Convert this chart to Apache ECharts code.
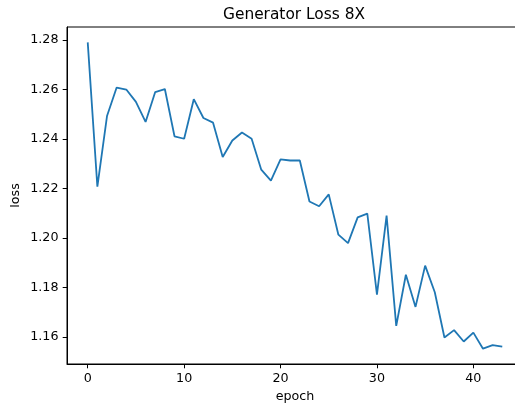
<!DOCTYPE html>
<html>
<head>
<meta charset="utf-8">
<script src="https://cdn.jsdelivr.net/npm/echarts@6/dist/echarts.min.js"></script>
<style>
  html, body { margin: 0; padding: 0; background: #fff; overflow: hidden; }
  /* the plot frame runs slightly past the right edge of the window */
  #chart { width: 523px; height: 407px; }
</style>
</head>
<body>
<div id="chart"></div>
<script>
// Generator loss per training epoch
const epochs = [0,1,2,3,4,5,6,7,8,9,10,11,12,13,14,15,16,17,18,19,20,21,
  22,23,24,25,26,27,28,29,30,31,32,33,34,35,36,37,38,39,40,41,42,43];
const loss = [1.2791, 1.2207, 1.2493, 1.2608, 1.2600, 1.2550, 1.2469, 1.2590,
  1.2602, 1.2411, 1.2401, 1.2561, 1.2485, 1.2466, 1.2327, 1.2394, 1.2426,
  1.2401, 1.2276, 1.2232, 1.2318, 1.2313, 1.2313, 1.2147, 1.2128, 1.2176,
  1.2013, 1.1979, 1.2083, 1.2098, 1.1771, 1.2090, 1.1644, 1.1851, 1.1721,
  1.1888, 1.1780, 1.1597, 1.1627, 1.1581, 1.1617, 1.1552, 1.1566, 1.1560];
const xTicks = [0, 10, 20, 30, 40];
const yTicks = [1.16, 1.18, 1.20, 1.22, 1.24, 1.26, 1.28];

const font = 'DejaVu Sans';
const labelSize = 12.7;
const chart = echarts.init(document.getElementById('chart'), null, { renderer: 'canvas' });

// 5% padding around the data on both axes
const xMin = Math.min(...epochs), xMax = Math.max(...epochs);
const yMin = Math.min(...loss), yMax = Math.max(...loss);
const xPad = (xMax - xMin) * 0.05, yPad = (yMax - yMin) * 0.05;

chart.setOption({
  animation: false,
  backgroundColor: '#fff',
  graphic: [{
    type: 'text',
    x: 294,
    y: 15.3,
    style: {
      text: 'Generator Loss 8X',
      font: '15.4px "DejaVu Sans"',
      fill: '#000',
      align: 'center',
      verticalAlign: 'middle'
    }
  }, {
    // y-axis title, rotated to read bottom-to-top
    type: 'text',
    x: 16,
    y: 195.5,
    rotation: Math.PI / 2,
    style: {
      text: 'loss',
      font: labelSize + 'px "DejaVu Sans"',
      fill: '#000',
      align: 'center',
      verticalAlign: 'middle'
    }
  }],
  grid: {
    left: 67, top: 27, bottom: 43, right: 0,
    show: true, borderColor: '#000', borderWidth: 1,
    containLabel: false,
    outerBoundsMode: 'none'
  },
  xAxis: {
    type: 'value',
    min: xMin - xPad, max: xMax + xPad,
    name: 'epoch', nameLocation: 'middle', nameGap: 24,
    nameTextStyle: { fontFamily: font, fontSize: labelSize, color: '#000' },
    axisLine: { show: true, onZero: false, lineStyle: { color: '#000', width: 1 } },
    axisTick: { show: true, inside: false, length: 4.3, customValues: xTicks,
      lineStyle: { color: '#000', width: 1 } },
    axisLabel: { customValues: xTicks, margin: 8.5, fontFamily: font, fontSize: labelSize, color: '#000' },
    splitLine: { show: false }
  },
  yAxis: {
    type: 'value',
    min: yMin - yPad, max: yMax + yPad,
    axisLine: { show: true, onZero: false, lineStyle: { color: '#000', width: 1 } },
    axisTick: { show: true, inside: false, length: 4.3, customValues: yTicks,
      lineStyle: { color: '#000', width: 1 } },
    axisLabel: { customValues: yTicks, margin: 8.5, fontFamily: font, fontSize: labelSize, color: '#000',
      formatter: v => v.toFixed(2) },
    splitLine: { show: false }
  },
  series: [{
    type: 'line',
    data: epochs.map((e, i) => [e, loss[i]]),
    showSymbol: false,
    lineStyle: { color: '#1f77b4', width: 1.8 },
    clip: true
  }]
});
</script>
</body>
</html>
